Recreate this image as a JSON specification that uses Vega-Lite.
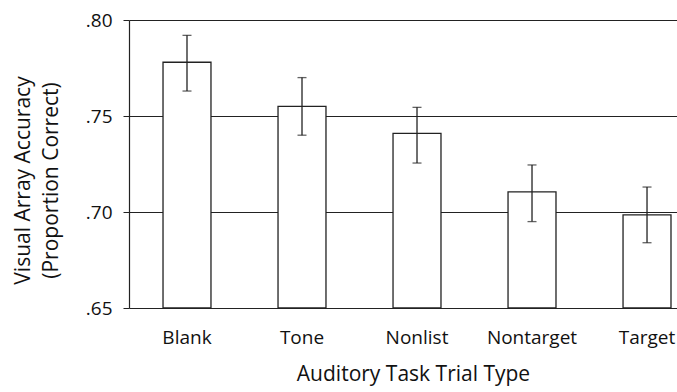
{
  "$schema": "https://vega.github.io/schema/vega-lite/v6.json",
  "width": 548,
  "height": 288,
  "autosize": {"type": "none"},
  "padding": {"left": 129, "top": 20, "right": 0, "bottom": 84},
  "background": "white",
  "config": {
    "view": {"stroke": null},
    "font": "Open Sans",
    "axis": {"labelFont": "Open Sans", "titleFont": "Open Sans", "labelColor": "#111", "titleColor": "#111", "titleFontWeight": "normal"}
  },
  "data": {
    "values": [
      {"type": "Blank", "acc": 0.778, "lo": 0.763, "hi": 0.792},
      {"type": "Tone", "acc": 0.755, "lo": 0.740, "hi": 0.770},
      {"type": "Nonlist", "acc": 0.741, "lo": 0.7255, "hi": 0.7545},
      {"type": "Nontarget", "acc": 0.7105, "lo": 0.695, "hi": 0.7245},
      {"type": "Target", "acc": 0.6985, "lo": 0.684, "hi": 0.713}
    ]
  },
  "encoding": {
    "x": {
      "field": "type",
      "type": "nominal",
      "sort": null,
      "scale": {"paddingInner": 0.583, "paddingOuter": 0.174, "align": 0.85},
      "axis": {
        "title": "Auditory Task Trial Type",
        "labelAngle": 0,
        "domain": false,
        "ticks": false,
        "labelPadding": 20,
        "labelFontSize": 19,
        "titleFontSize": 21,
        "titlePadding": 16,
        "titleX": 284
      }
    }
  },
  "layer": [
    {
      "mark": {"type": "bar", "fill": "white", "stroke": "#222", "strokeWidth": 1.3},
      "encoding": {
        "y": {
          "field": "acc",
          "type": "quantitative",
          "scale": {"domain": [0.65, 0.8], "zero": false, "nice": false},
          "axis": {
            "title": ["Visual Array Accuracy", "(Proportion Correct)"],
            "values": [0.65, 0.7, 0.75, 0.8],
            "labelExpr": "substring(format(datum.value, '.2f'), 1)",
            "labelFontSize": 19,
            "labelPadding": 11,
            "tickSize": 6,
            "tickColor": "#222",
            "domain": true,
            "domainColor": "#222",
            "domainWidth": 1.2,
            "grid": true,
            "gridColor": "#222",
            "gridWidth": 1.2,
            "gridOpacity": 1,
            "titleFontSize": 21,
            "titleLineHeight": 28,
            "titleAngle": -90,
            "titleBaseline": "top",
            "titleAlign": "center",
            "titleX": -117,
            "titleY": 160
          }
        },
        "y2": {"datum": 0.65}
      }
    },
    {
      "mark": {"type": "rule", "color": "#222", "strokeWidth": 1.3},
      "encoding": {"y": {"field": "lo", "type": "quantitative"}, "y2": {"field": "hi"}}
    },
    {
      "mark": {"type": "tick", "color": "#222", "size": 9, "thickness": 1.3},
      "encoding": {"y": {"field": "lo", "type": "quantitative"}}
    },
    {
      "mark": {"type": "tick", "color": "#222", "size": 9, "thickness": 1.3},
      "encoding": {"y": {"field": "hi", "type": "quantitative"}}
    }
  ]
}
